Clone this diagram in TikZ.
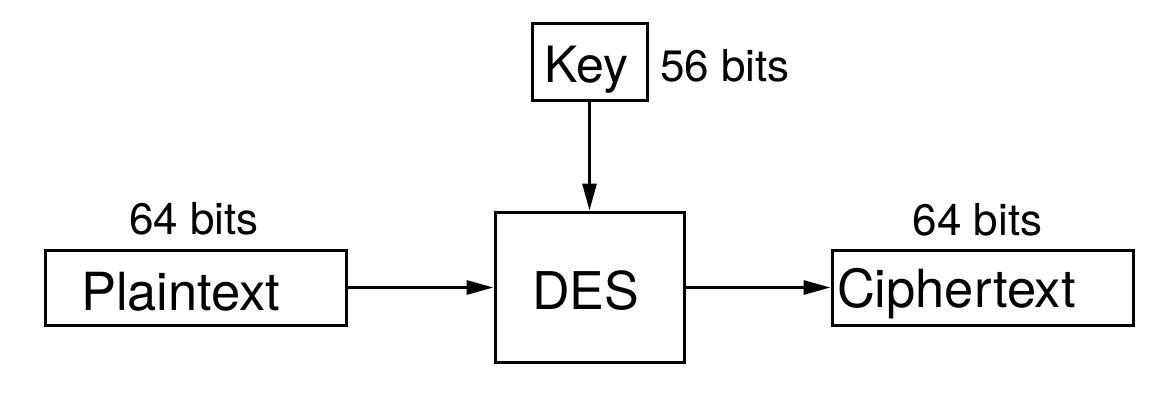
\documentclass[tikz,border=0pt]{standalone}
\usepackage{fontspec}
\setmainfont{TeX Gyre Heros}
\usetikzlibrary{arrows.meta}
\begin{document}
\begin{tikzpicture}[x=1pt,y=-1pt,
  box/.style={draw,line width=3pt,rectangle,inner ysep=0pt},
  conn/.style={line width=3pt,-{Triangle[length=27pt,width=14pt]}},
  lbl/.style={inner sep=0pt,anchor=base,font=\fontsize{44pt}{50pt}\selectfont}]
\useasboundingbox (0,0) rectangle (1172,416);
\node[box,minimum width=115pt,minimum height=77pt,inner xsep=0pt,text height=41pt,text depth=0pt,
  font=\fontsize{50pt}{56pt}\selectfont] (key) at (589.5,61.5) {\hspace*{-6pt}Key};
\node[box,minimum width=189pt,minimum height=150pt,inner xsep=0pt,text height=44pt,text depth=0pt,
  font=\fontsize{52pt}{58pt}\selectfont] (des) at (589.5,287) {\hspace*{-8pt}DES};
\node[box,minimum height=75pt,inner xsep=36pt,text width=229pt,align=left,text height=45pt,text depth=0pt,
  font=\fontsize{52.5pt}{58pt}\selectfont] (plain) at (195.5,287.5) {Plaintext};
\node[box,minimum height=75pt,inner xsep=5pt,text width=291pt,align=left,text height=39pt,text depth=0pt,
  font=\fontsize{52.5pt}{60pt}\selectfont] (cipher) at (982.5,287.5) {Ciphertext};
\node[lbl,anchor=base west] (kbits) at (660,81) {56 bits};
\node[lbl] (pbits) at (194,234) {64 bits};
\node[lbl] (cbits) at (977.5,235) {64 bits};
\draw[conn] (key.south) -- (des.north);
\draw[conn] (plain.east) -- (plain.east -| des.west);
\draw[conn] (des.east |- cipher.west) -- (cipher.west);
\end{tikzpicture}
\end{document}
